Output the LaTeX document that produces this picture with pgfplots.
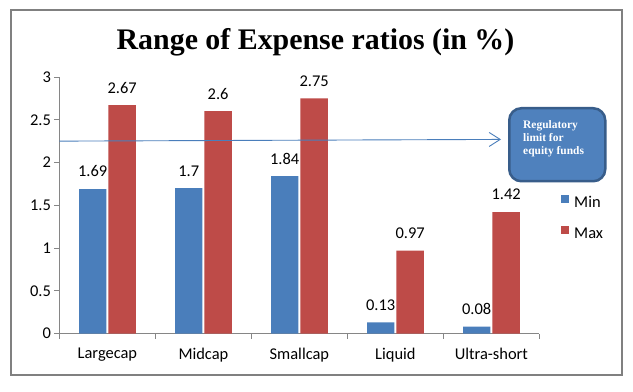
\documentclass[border=0pt]{standalone}
\usepackage{pgfplots}
\pgfplotsset{compat=1.18}
\usepackage{fontspec}
\setmainfont{Carlito}
\newfontfamily\timesfont{Liberation Serif}
\usetikzlibrary{arrows.meta}
\definecolor{barblue}{HTML}{4A7EBB}
\definecolor{barred}{HTML}{BE4B48}
\definecolor{boxblue}{HTML}{4F81BD}
\definecolor{boxedge}{HTML}{385D8A}
\definecolor{axisgray}{HTML}{868686}
\definecolor{framegray}{HTML}{808080}
\begin{document}
\begin{tikzpicture}
\path[fill=white, use as bounding box] (-59.4bp,-58.5bp) rectangle (573.6bp,333.5bp);
\draw[framegray, line width=1.2bp] (-48.4bp,-41.5bp) rectangle (562.6bp,323.5bp);
\begin{axis}[
  at={(0,0)}, anchor=south west,
  scale only axis, width=480bp, height=256.5bp,
  xmin=-0.5, xmax=4.5, ymin=0, ymax=3,
  enlarge x limits=false,
  ybar, bar width=27.4bp,
  axis lines*=left,
  axis line style={axisgray, line width=0.8bp},
  xtick={0,1,2,3,4},
  xticklabels={Largecap,Midcap,Smallcap,Liquid,Ultra-short},
  minor xtick={-0.5,0.5,1.5,2.5,3.5,4.5},
  major x tick style={draw=none},
  minor x tick style={axisgray, line width=0.8bp},
  ytick={0,0.5,1,1.5,2,2.5,3},
  yticklabels={0,0.5,1,1.5,2,2.5,3},
  y tick style={axisgray, line width=0.8bp},
  tick align=outside,
  major tick length=5bp, minor tick length=5bp,
  tick label style={font=\fontsize{16.5}{19}\selectfont},
  xticklabel style={yshift=-6bp},
  point meta=explicit symbolic,
  nodes near coords={\pgfplotspointmeta},
  nodes near coords style={font=\fontsize{16.5}{19}\selectfont, black, yshift=8.5bp},
  legend style={at={(1.045,0.450)}, anchor=west, draw=none, fill=none,
    inner sep=0pt, font=\fontsize{16.5}{19}\selectfont,
    row sep=16bp,
    nodes={inner sep=0pt, text height=11bp, text depth=3bp}},
  legend cell align=left,
  /tikz/every odd column/.append style={column sep=5bp},
  legend image code/.code={\fill[#1] (0bp,0bp) rectangle (8bp,8bp);},
]
\addplot[fill=barblue, draw=none] coordinates {(0,1.69)[1.69] (1,1.7)[1.7] (2,1.84)[1.84] (3,0.13)[0.13] (4,0.08)[0.08]};
\addplot[fill=barred, draw=none] coordinates {(0,2.67)[2.67] (1,2.6)[2.6] (2,2.75)[2.75] (3,0.97)[0.97] (4,1.42)[1.42]};
\legend{Min,Max}
\draw[-{Straight Barb[length=11bp,width=14bp]}, barblue, line width=0.9bp] (axis cs:-0.5,2.25) -- (axis cs:4.1,2.27);
\end{axis}
\node[font=\timesfont\bfseries\fontsize{30}{36}\selectfont, anchor=base] at (256.1bp,283.5bp) {Range of Expense ratios (in \%)};
\node[draw=boxedge, line width=2.5bp, fill=boxblue, rounded corners=12bp, minimum width=96bp, minimum height=73bp, anchor=north west, inner sep=0pt] at (448.6bp,226.5bp) {};
\node[anchor=north west, align=left, font=\timesfont\bfseries\fontsize{11.5}{13}\selectfont, text=white, inner sep=0pt] at (463.6bp,213.5bp) {Regulatory\\limit for\\equity funds};
\end{tikzpicture}
\end{document}
